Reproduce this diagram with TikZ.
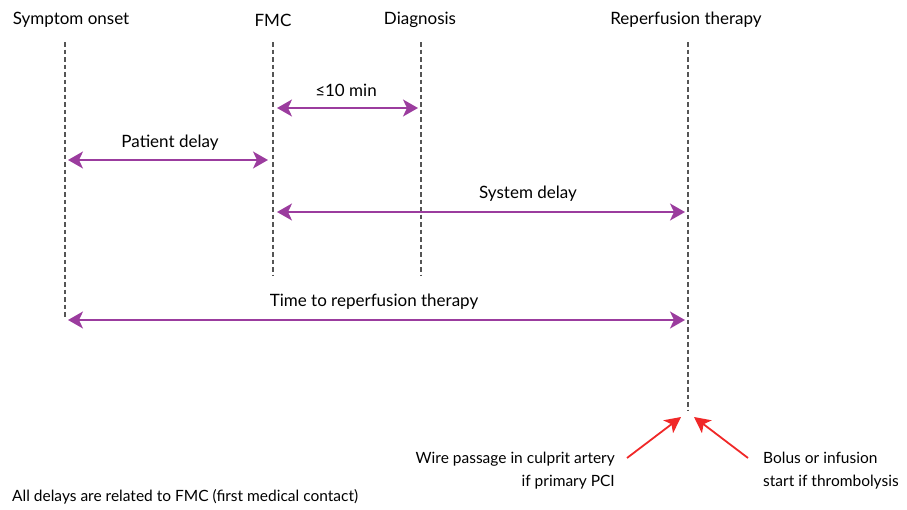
\documentclass[tikz,border=0pt]{standalone}
\usepackage{fontspec}
\setmainfont{Lato}
\usetikzlibrary{arrows.meta}
\definecolor{purp}{HTML}{9B3C9E}
\definecolor{redarr}{HTML}{F02828}
\definecolor{dgray}{HTML}{555555}
\tikzset{
  lbl/.style={font=\fontsize{17}{20}\selectfont, inner sep=0pt},
  smalllbl/.style={font=\fontsize{15.5}{23}\selectfont, inner sep=0pt},
  tline/.style={draw=dgray, line width=1.6pt, dash pattern=on 4.5pt off 3pt},
  dur/.style={draw=purp, line width=1.8pt, {Stealth[length=15pt,width=17pt,inset=4pt]}-{Stealth[length=15pt,width=17pt,inset=4pt]}},
  redar/.style={draw=redarr, line width=1.8pt, -{Stealth[length=16pt,width=16pt,inset=4pt]}}
}
\begin{document}
\begin{tikzpicture}[x=1pt,y=-1pt]
\useasboundingbox (0,0) rectangle (907,509);
% headers
\node[lbl] (hso) at (71,20) {Symptom onset};
\node[lbl] (hfmc) at (273,20) {FMC};
\node[lbl] (hdia) at (420,20) {Diagnosis};
\node[lbl] (hrep) at (686,20) {Reperfusion therapy};
% timeline coordinates
\coordinate (so1) at (65,42); \coordinate (so2) at (65,318);
\coordinate (fm1) at (273,42); \coordinate (fm2) at (273,276);
\coordinate (di1) at (421,42); \coordinate (di2) at (421,276);
\coordinate (re1) at (688,42); \coordinate (re2) at (688,410);
\draw[tline] (so1) -- (so2);
\draw[tline] (fm1) -- (fm2);
\draw[tline] (di1) -- (di2);
\draw[tline] (re1) -- (re2);
% durations
\coordinate (a1) at (277,108); \coordinate (a2) at (418,108);
\draw[dur] (a1) -- (a2);
\node[lbl] (l10) at (346,90) {≤10 min};
\coordinate (b1) at (68,160); \coordinate (b2) at (268,160);
\draw[dur] (b1) -- (b2);
\node[lbl] (lpd) at (170,143) {Patient delay};
\coordinate (c1) at (277,212); \coordinate (c2) at (685,212);
\draw[dur] (c1) -- (c2);
\node[lbl] (lsd) at (528,194) {System delay};
\coordinate (d1) at (68,320); \coordinate (d2) at (685,320);
\draw[dur] (d1) -- (d2);
\node[lbl] (ltr) at (374,302) {Time to reperfusion therapy};
% red arrows
\node[smalllbl, align=right, anchor=north east] (wire) at (615,452) {Wire passage in culprit artery\\if primary PCI};
\node[smalllbl, align=left, anchor=north west] (bolus) at (763,452) {Bolus or infusion\\start if thrombolysis};
\coordinate (t1) at (627,458); \coordinate (h1) at (681,417);
\coordinate (t2) at (748,458); \coordinate (h2) at (694,417);
\draw[redar] (t1) -- (h1);
\draw[redar] (t2) -- (h2);
% footnote
\node[font=\fontsize{15.5}{18}\selectfont, inner sep=0pt, anchor=west] (foot) at (12,497) {All delays are related to FMC (first medical contact)};
\end{tikzpicture}
\end{document}
